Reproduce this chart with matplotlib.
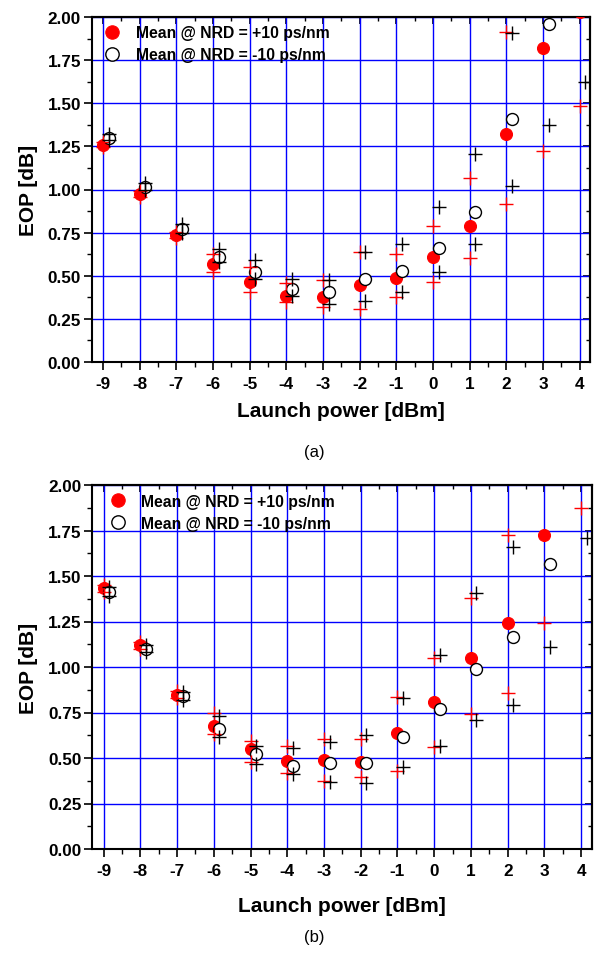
import numpy as np
import matplotlib
matplotlib.use("Agg")
import matplotlib.pyplot as plt
from matplotlib.ticker import MultipleLocator, FormatStrFormatter

plt.rcParams['font.family'] = ['Liberation Sans', 'DejaVu Sans']
plt.rcParams['axes.unicode_minus'] = False

# ---------------- data ----------------
power = [-9, -8, -7, -6, -5, -4, -3, -2, -1, 0, 1, 2, 3, 4]

# panel (a)
a_mean_pos = [1.26, 0.975, 0.735, 0.568, 0.466, 0.381, 0.375, 0.446, 0.485, 0.607, 0.787, 1.322, 1.82, 2.03]
a_mean_neg = [1.30, 1.012, 0.771, 0.607, 0.520, 0.423, 0.404, 0.481, 0.526, 0.661, 0.872, 1.409, 1.96, 2.25]
a_pos_low = [1.245, 0.955, 0.72, 0.52, 0.404, 0.35, 0.317, 0.307, 0.375, 0.466, 0.603, 0.916, 1.225, 1.486]
a_pos_high = [1.275, 0.99, 0.755, 0.626, 0.549, 0.458, 0.477, 0.636, 0.626, 0.787, 1.067, 1.911, 2.30, 2.60]
a_neg_low = [1.285, 0.995, 0.75, 0.578, 0.481, 0.384, 0.336, 0.355, 0.404, 0.520, 0.684, 1.022, 1.374, 1.621]
a_neg_high = [1.32, 1.035, 0.80, 0.655, 0.593, 0.481, 0.477, 0.639, 0.684, 0.897, 1.206, 1.905, 2.40, 2.70]

# panel (b)
b_mean_pos = [1.432, 1.12, 0.847, 0.677, 0.549, 0.481, 0.488, 0.479, 0.640, 0.809, 1.047, 1.244, 1.723, 2.30]
b_mean_neg = [1.414, 1.101, 0.838, 0.659, 0.521, 0.454, 0.470, 0.472, 0.613, 0.768, 0.988, 1.167, 1.564, 2.20]
b_pos_low = [1.41, 1.10, 0.83, 0.631, 0.476, 0.417, 0.375, 0.394, 0.429, 0.558, 0.741, 0.855, 1.244, 1.875]
b_pos_high = [1.45, 1.14, 0.87, 0.750, 0.594, 0.564, 0.604, 0.604, 0.833, 1.052, 1.381, 1.723, 2.25, 2.70]
b_neg_low = [1.39, 1.08, 0.82, 0.613, 0.467, 0.412, 0.370, 0.362, 0.448, 0.564, 0.710, 0.790, 1.110, 1.711]
b_neg_high = [1.44, 1.12, 0.865, 0.732, 0.564, 0.553, 0.586, 0.626, 0.827, 1.065, 1.409, 1.659, 2.10, 2.60]

label_pos = "Mean @ NRD = +10 ps/nm"
label_neg = "Mean @ NRD = -10 ps/nm"
xlabel = "Launch power [dBm]"
ylabel = "EOP [dB]"
captions = ["(a)", "(b)"]

# ---------------- figure ----------------
W, H = 597, 954
fig = plt.figure(figsize=(W / 100, H / 100), dpi=100)


def px_axes(l, r, t, b):
    return fig.add_axes([l / W, 1 - b / H, (r - l) / W, (b - t) / H])


def draw(ax, mp, mn, pl, ph, nl, nh, leg_x, leg_y, xpad):
    x = np.array(power, dtype=float)
    xo = x + 0.15
    ax.set_xlim(-9.3, 4.28)
    ax.set_ylim(0, 2.0)
    ax.grid(True, which='major', color='#0000ff', lw=1.0, zorder=0)
    ax.set_axisbelow(True)
    ax.plot(x, mp, 'o', ms=8.6, mfc='red', mec='red', mew=0.8, ls='none', label=label_pos, zorder=3)
    ax.plot(xo, mn, 'o', ms=8.6, mfc='white', mec='black', mew=1.0, ls='none', label=label_neg, zorder=3)
    ax.plot(x, pl, '+', ms=10, color='red', mew=1.0, ls='none', zorder=4)
    ax.plot(x, ph, '+', ms=10, color='red', mew=1.0, ls='none', zorder=4)
    ax.plot(xo, nl, '+', ms=10, color='black', mew=1.0, ls='none', zorder=5)
    ax.plot(xo, nh, '+', ms=10, color='black', mew=1.0, ls='none', zorder=5)

    ax.xaxis.set_major_locator(MultipleLocator(1))
    ax.xaxis.set_minor_locator(MultipleLocator(0.5))
    ax.yaxis.set_major_locator(MultipleLocator(0.25))
    ax.yaxis.set_minor_locator(MultipleLocator(0.125))
    ax.yaxis.set_major_formatter(FormatStrFormatter('%.2f'))
    ax.tick_params(which='major', direction='out', length=6, width=1.2, labelsize=12.3, pad=2)
    ax.tick_params(which='minor', direction='out', length=3.5, width=1.0)
    ax.tick_params(axis='x', which='major', pad=4)
    for lab in ax.get_xticklabels() + ax.get_yticklabels():
        lab.set_fontweight('bold')
    for s in ax.spines.values():
        s.set_linewidth(1.5)

    top = ax.secondary_xaxis('top')
    top.xaxis.set_major_locator(MultipleLocator(1))
    top.xaxis.set_minor_locator(MultipleLocator(0.5))
    top.tick_params(which='major', direction='in', length=5, width=1.2, labeltop=False)
    top.tick_params(which='minor', direction='in', length=3, width=1.0)
    top.spines['top'].set_linewidth(1.5)
    right = ax.secondary_yaxis('right')
    right.yaxis.set_major_locator(MultipleLocator(0.25))
    right.yaxis.set_minor_locator(MultipleLocator(0.125))
    right.tick_params(which='major', direction='in', length=5, width=1.2, labelright=False)
    right.tick_params(which='minor', direction='in', length=3, width=1.0)
    right.spines['right'].set_linewidth(1.5)

    ax.set_xlabel(xlabel, fontsize=15, fontweight='bold', labelpad=xpad)
    ax.set_ylabel(ylabel, fontsize=15, fontweight='bold', labelpad=7)

    ax.legend(loc='upper left', bbox_to_anchor=(leg_x, leg_y), frameon=False,
              prop={'weight': 'bold', 'size': 11.3}, handlelength=1.0,
              handletextpad=1.0, borderaxespad=0, borderpad=0,
              labelspacing=0.45, numpoints=1, markerscale=1.12)
    return ax


ax1 = px_axes(92, 590, 18, 363)
draw(ax1, a_mean_pos, a_mean_neg, a_pos_low, a_pos_high, a_neg_low, a_neg_high, 0.025, 0.976, 7.5)
ax2 = px_axes(92.5, 591.5, 486, 850)
draw(ax2, b_mean_pos, b_mean_neg, b_pos_low, b_pos_high, b_neg_low, b_neg_high, 0.035, 0.976, 13)

fig.text(314 / W, 1 - 453 / H, captions[0], ha='center', va='center', fontsize=12)
fig.text(314 / W, 1 - 938 / H, captions[1], ha='center', va='center', fontsize=12)

fig.savefig('out.png', dpi=100)
